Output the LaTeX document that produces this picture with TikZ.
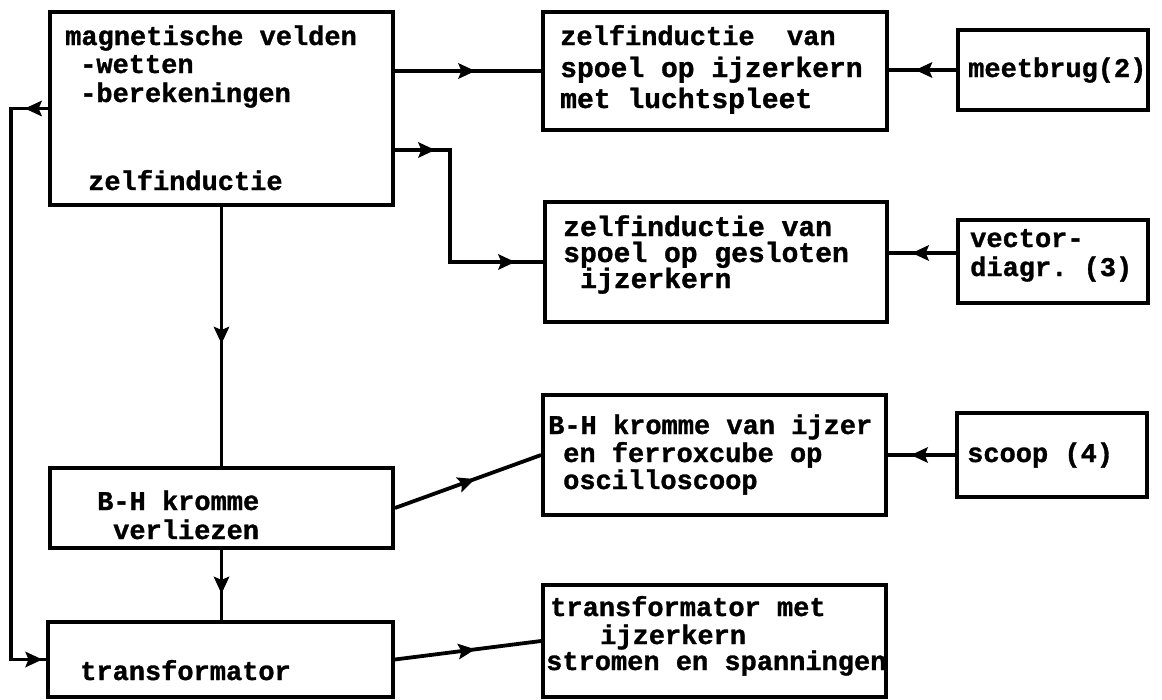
\documentclass[tikz,border=0pt]{standalone}
\usepackage{fontspec}
\setmonofont{Liberation Mono}[BoldFeatures={FakeBold=1.2}]
\usetikzlibrary{decorations.markings,arrows.meta}
\newcommand{\midtip}{\fill[line width=1pt, draw] (6pt,0pt) -- (-9pt,7pt) -- (-6pt,0pt) -- (-9pt,-7pt) -- cycle;}
\begin{document}
\begin{tikzpicture}[x=1pt,y=-1pt,
  box/.style={draw, line width=3.8pt, rectangle, inner sep=0pt},
  txt/.style={anchor=base west, inner sep=0pt, font=\fontsize{27}{30}\selectfont\ttfamily\bfseries},
  txtb/.style={anchor=base west, inner sep=0pt, font=\fontsize{28}{30}\selectfont\ttfamily\bfseries},
  conn/.style={line width=3.8pt},
  ah/.style={postaction={decorate}, decoration={markings, mark=at position #1 with {\midtip}}},
  ahtwo/.style 2 args={postaction={decorate}, decoration={markings,
      mark=at position #1 with {\midtip},
      mark=at position #2 with {\midtip}}},
]
\useasboundingbox (0,0) rectangle (1162,699);
\fill[white] (0,0) rectangle (1162,699);

% boxes
\node[box, minimum width=343pt, minimum height=193pt] (A) at (221.5,108.5) {};
\node[box, minimum width=344pt, minimum height=118pt] (B) at (715,71) {};
\node[box, minimum width=190pt, minimum height=80pt]  (C) at (1053,70) {};
\node[box, minimum width=342pt, minimum height=120pt] (D) at (716,262) {};
\node[box, minimum width=190pt, minimum height=83pt]  (E) at (1053,261.5) {};
\node[box, minimum width=343pt, minimum height=120pt] (F) at (714.5,455) {};
\node[box, minimum width=190pt, minimum height=84pt]  (G) at (1052,455) {};
\node[box, minimum width=343pt, minimum height=112pt] (H) at (714.5,641) {};
\node[box, minimum width=343pt, minimum height=80pt]  (I) at (221.5,508) {};
\node[box, minimum width=345pt, minimum height=75pt]  (J) at (220.5,659.5) {};

% texts
\node[txt] (a1) at (65,45) {magnetische velden};
\node[txt] (a2) at (80,73) {-wetten};
\node[txt] (a3) at (80,102) {-berekeningen};
\node[txt] (a4) at (88,190) {zelfinductie};

\node[txt] (b1) at (560,45) {zelfinductie\ \ van};
\node[txtb] (b2) at (560,77) {spoel op ijzerkern};
\node[txtb] (b3) at (560,108) {met luchtspleet};

\node[txt] (c1) at (968,77) {meetbrug(2)};

\node[txtb] (d1) at (563,236) {zelfinductie van};
\node[txtb] (d2) at (563,262) {spoel op gesloten};
\node[txtb] (d3) at (580,288) {ijzerkern};

\node[txt] (e1) at (970,247) {vector-};
\node[txt] (e2) at (970,276) {diagr. (3)};

\node[txt] (f1) at (548,434) {B-H kromme van ijzer};
\node[txt] (f2) at (563,462) {en ferroxcube op};
\node[txt] (f3) at (563,489) {oscilloscoop};

\node[txt] (g1) at (967,462) {scoop (4)};

\node[txt] (h1) at (550,616) {transformator met};
\node[txt] (h2) at (600,644) {ijzerkern};
\node[txt] (h3) at (546,670) {stromen en spanningen};

\node[txt] (i1) at (97,510) {B-H kromme};
\node[txt] (i2) at (113,539) {verliezen};

\node[txt] (j1) at (80,680) {transformator};

% connectors
\coordinate (k1) at (450,150);
\coordinate (ke) at (958,253);
\draw[conn, ah=0.5] (A.east |- B.west) -- (B.west);
\draw[conn, ahtwo={33pt}{225pt}] (A.east |- k1) -- (k1) |- (D.west);
\draw[conn, ah=0.5] (C.west) -- (C.west -| B.east);
\draw[conn, ah=0.55] (E.west |- ke) -- (ke -| D.east);
\draw[conn, ah=0.55] (G.west) -- (G.west -| F.east);
\draw[conn, ah=0.5] (A.south) -- (A.south |- I.north);
\draw[conn, ah=0.52] (I.south) -- (I.south |- J.north);
\draw[conn, ah=0.5] (I.east) -- (F.west);
\draw[conn, ah=0.5] (J.east) -- (H.west);
\draw[conn, ahtwo={16pt}{612pt}] (A.west) -- ++(-37,0) |- (J.west);
\end{tikzpicture}
\end{document}
